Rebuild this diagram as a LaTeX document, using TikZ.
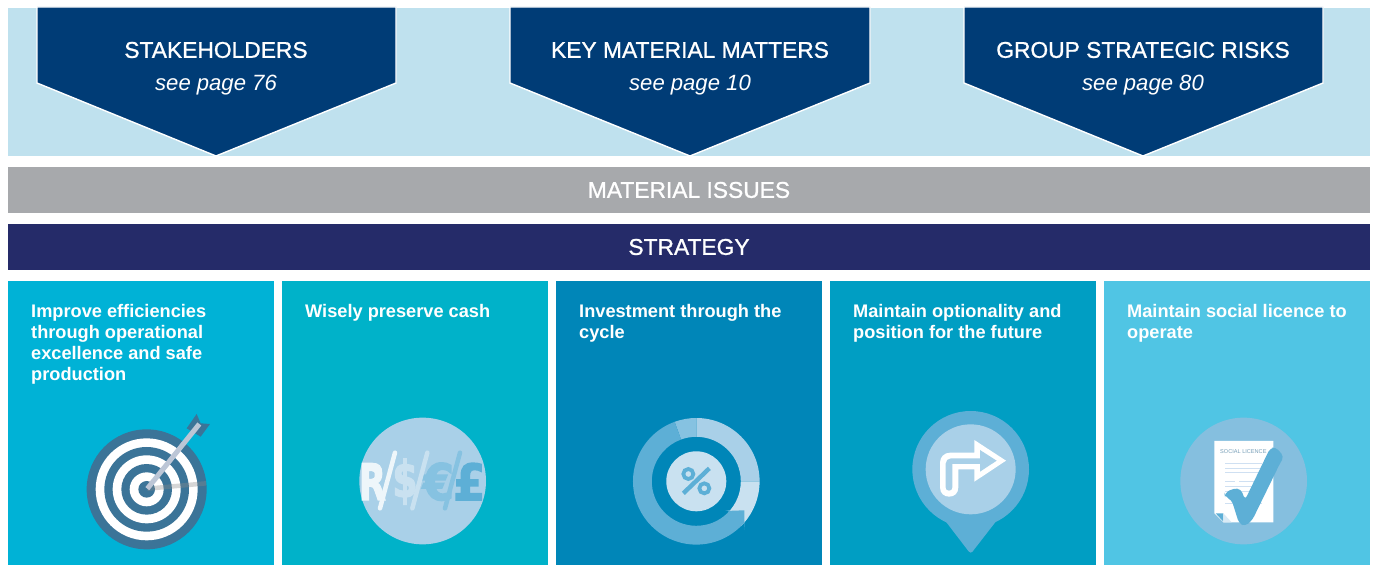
\documentclass[tikz,border=0pt]{standalone}
\usepackage{fontspec}
\setmainfont{Liberation Sans}
\newfontfamily\medfont[FakeBold=1]{Liberation Sans}
\newfontfamily\symfont[BoldFeatures={FakeBold=3}]{DejaVu Sans}
\definecolor{bandc}{HTML}{BFE1EE}
\definecolor{navyp}{HTML}{003C76}
\definecolor{grayb}{HTML}{A7A9AC}
\definecolor{navyb}{HTML}{252B69}
\definecolor{pa}{HTML}{00B2D6}
\definecolor{pb}{HTML}{00B2C9}
\definecolor{pc}{HTML}{0086B8}
\definecolor{pd}{HTML}{009EC3}
\definecolor{pe}{HTML}{50C5E4}
\definecolor{ringc}{HTML}{3B7498}
\definecolor{shaft}{HTML}{BCC6D6}
\definecolor{iconA}{HTML}{A9D0E8}
\definecolor{iconB}{HTML}{5DAFD6}
\definecolor{iconC}{HTML}{C9E1F0}
\definecolor{iconD}{HTML}{86C2E1}
\definecolor{iconE}{HTML}{85BFDF}
\definecolor{iconG}{HTML}{CFE0F2}
\tikzset{
  x=1pt,y=-1pt,
  pent/.style={fill=navyp,draw=white,line width=1.4pt},
  headtxt/.style={text=white,font=\fontsize{22.8}{26}\selectfont\medfont,anchor=center,inner sep=0pt},
  seetxt/.style={text=white,font=\fontsize{22.1}{26}\selectfont\itshape,anchor=center,inner sep=0pt},
  bartxt/.style={headtxt},
  paneltxt/.style={text=white,font=\fontsize{18.2}{21.2}\selectfont\bfseries,anchor=north west,align=left,inner sep=0pt},
  glyph/.style={font=\fontsize{50}{50}\selectfont\symfont\bfseries,transform shape,inner sep=0pt,anchor=center},
  slashl/.style={line width=4.5pt,line cap=round},
  docline/.style={iconG,line width=1.1pt},
  zoomed/.style={x=1pt/3,y=-1pt/3},
}
\begin{document}
\begin{tikzpicture}
\useasboundingbox (0,0) rectangle (1377,569);
\fill[white] (0,0) rectangle (1377,569);
% top band
\fill[bandc] (8,8) rectangle (1370,156);
\draw[pent] (37,7) -- (396,7) -- (396,83) -- (216,156) -- (37,83) -- cycle;
\draw[pent] (510,7) -- (870,7) -- (870,83) -- (690,156) -- (510,83) -- cycle;
\draw[pent] (964,7) -- (1323,7) -- (1323,83) -- (1143,156) -- (964,83) -- cycle;
\node[headtxt] (h1) at (216,50) {STAKEHOLDERS};
\node[seetxt] (s1) at (216,85) {see page 76};
\node[headtxt] (h2) at (690,50) {KEY MATERIAL MATTERS};
\node[seetxt] (s2) at (690,85) {see page 10};
\node[headtxt] (h3) at (1143,50) {GROUP STRATEGIC RISKS};
\node[seetxt] (s3) at (1143,85) {see page 80};
% bars
\fill[grayb] (8,167) rectangle (1370,213);
\node[bartxt] (mi) at (689,190) {MATERIAL ISSUES};
\fill[navyb] (8,224) rectangle (1370,270);
\node[bartxt] (st) at (689,247) {STRATEGY};
% panels
\fill[pa] (8,281) rectangle (274,565);
\fill[pb] (282,281) rectangle (548,565);
\fill[pc] (556,281) rectangle (822,565);
\fill[pd] (830,281) rectangle (1096,565);
\fill[pe] (1104,281) rectangle (1370,565);
\node[paneltxt] (t1) at (31,304) {Improve efficiencies\\through operational\\excellence and safe\\production};
\node[paneltxt] (t2) at (305,304) {Wisely preserve cash};
\node[paneltxt] (t3) at (579,304) {Investment through the\\cycle};
\node[paneltxt] (t4) at (853,304) {Maintain optionality and\\position for the future};
\node[paneltxt] (t5) at (1127,304) {Maintain social licence to\\operate};
% target icon
\begin{scope}[shift={(60,400)},zoomed]
\fill[ringc] (260,268) circle (180);
\fill[white] (260,268) circle (153);
\fill[ringc] (260,268) circle (127);
\fill[white] (260,268) circle (102);
\fill[ringc] (260,268) circle (76);
\fill[white] (260,268) circle (51);
\fill[ringc] (260,268) circle (25);
\draw[black!45,opacity=.35,line width=4.5pt] (262,266) -- (438,250);
\fill[ringc] (410,42) -- (422,70) -- (450,72) -- (422,110) -- (380,85) -- cycle;
\draw[shaft,line width=5pt] (262,266) -- (418,72);
\end{scope}
% cash icon
\begin{scope}[shift={(340,400)},zoomed]
\fill[iconA] (248,243) circle (190);
\node[glyph,xscale=.7,text=white!80!iconA] (cr) at (97,245) {R};
\node[glyph,xscale=.72,text=iconC] (cd) at (195,245) {\$};
\node[glyph,xscale=.9,text=iconD] (ce) at (295,245) {€};
\node[glyph,xscale=.92,text=iconB] (cp) at (388,245) {£};
\draw[slashl,white!80!iconA] (165,158) -- (120,325);
\draw[slashl,iconC] (262,158) -- (217,325);
\draw[slashl,iconD] (360,158) -- (315,325);
\end{scope}
% donut icon
\begin{scope}[shift={(696.3,481.3)},x=1pt,y=1pt]
\fill[iconA] (90:63.3) arc (90:0:63.3) -- (0:44.5) arc (0:90:44.5) -- cycle;
\fill[iconC] (0:63.3) arc (0:-45:63.3) -- (-45:44.5) arc (-45:0:44.5) -- cycle;
\fill[iconD] (90:63.3) arc (90:110:63.3) -- (110:44.5) arc (110:90:44.5) -- cycle;
\fill[iconB] (110:63.3) arc (110:320:63.3) -- (48,-48.7) -- (48,-29)
   -- (28.7,-29.7) -- (320:44.5) arc (320:110:44.5) -- cycle;
\fill[iconC] (0,0) circle (30);
\end{scope}
\begin{scope}[shift={(620,405)},zoomed]
\draw[iconB,line width=3.8pt] (205,207) circle (15);
\draw[iconB,line width=3.8pt] (253,250) circle (15);
\draw[iconB,line width=4.4pt] (268,190) -- (190,265);
\end{scope}
% pin icon
\begin{scope}[shift={(895,400)},zoomed]
\fill[iconB] (227,208) circle (175);
\fill[iconB,rounded corners=3pt] (145,355) -- (227,462) -- (310,355) -- cycle;
\fill[iconA] (227,208) circle (135);
\fill[white] (333,182) -- (238,120) -- (238,158) -- (165,158) .. controls (148,158) and (135,171) .. (135,188)
  -- (135,262) .. controls (135,280) and (147,290) .. (162.5,290) .. controls (178,290) and (190,280) .. (190,262)
  -- (190,208) -- (238,208) -- (238,245) -- cycle;
\fill[iconA] (305,182) -- (255,150) -- (255,175) -- (168,175) .. controls (159,175) and (152,182) .. (152,191)
  -- (152,262) .. controls (152,268) and (156,272) .. (162,272) .. controls (168,272) and (172,268) .. (172,262)
  -- (172,192) -- (255,192) -- (255,215) -- cycle;
\end{scope}
% licence icon
\begin{scope}[shift={(1165,405)},zoomed]
\fill[iconE] (236,228) circle (190);
\fill[white] (148,108) -- (325,108) -- (325,352) -- (175,352) -- (148,325) -- cycle;
\node[text=ringc!70,font=\fontsize{5.6}{6}\selectfont,inner sep=0pt] (sl) at (235,141) {SOCIAL LICENCE};
\foreach \yy in {176,190,203,245,260,295}{\draw[docline] (180,\yy) -- (290,\yy);}
\draw[docline] (180,230) -- (210,230);
\draw[docline] (222,230) -- (290,230);
\fill[iconB] (152,325) -- (175,325) -- (175,350) -- cycle;
\fill[iconC!70!white] (175,325) -- (200,352) -- (175,352) -- cycle;
\fill[iconB,rounded corners=4pt] (178,265) -- (205,250) -- (228,252) -- (240,285) -- (315,130) -- (332,126) -- (357,155) -- (345,175) -- (262,345) -- (240,364) -- (222,355) -- (200,285) -- (180,275) -- cycle;
\end{scope}
\end{tikzpicture}
\end{document}
